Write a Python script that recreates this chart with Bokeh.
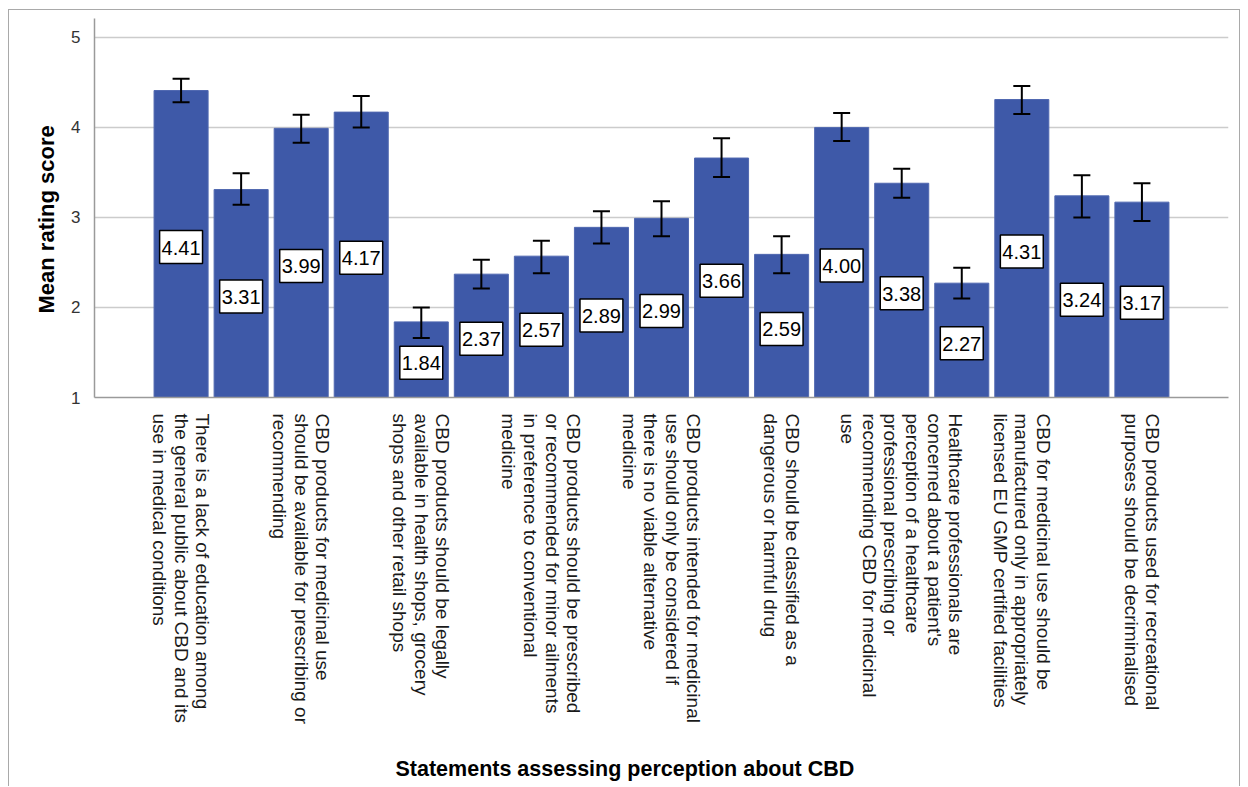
import math

from bokeh.core.properties import value
from bokeh.embed import file_html
from bokeh.models import (ColumnDataSource, FixedTicker, Range1d, TeeHead,
                          Title, Whisker)
from bokeh.plotting import figure
from bokeh.resources import INLINE

# Statement number (1..17) along the x axis; alternate statements keep an
# empty label so the long wrapped texts do not collide.
positions = list(range(1, 18))
statements = [
    "There is a lack of education among\nthe general public about CBD and its\nuse in medical conditions",
    "",
    "CBD products for medicinal use\nshould be available for prescribing or\nrecommending",
    "",
    "CBD products should be legally\navailable in health shops, grocery\nshops and other retail shops",
    "",
    "CBD products should be prescribed\nor recommended for minor ailments\nin preference to conventional\nmedicine",
    "",
    "CBD products intended for medicinal\nuse should only be considered if\nthere is no viable alternative\nmedicine",
    "",
    "CBD should be classified as a\ndangerous or harmful drug",
    "",
    "Healthcare professionals are\nconcerned about a patient's\nperception of a healthcare\nprofessional prescribing or\nrecommending CBD for medicinal\nuse",
    "",
    "CBD for medicinal use should be\nmanufactured only in appropriately\nlicensed EU GMP certified facilities",
    "",
    "CBD products used for recreational\npurposes should be decriminalised",
]

# Mean rating per statement and the ends of its error bar
mean_score = [4.41, 3.31, 3.99, 4.17, 1.84, 2.37, 2.57, 2.89, 2.99,
              3.66, 2.59, 4.00, 3.38, 2.27, 4.31, 3.24, 3.17]
ci_lower = [4.28, 3.14, 3.83, 4.00, 1.66, 2.21, 2.38, 2.71, 2.79,
            3.45, 2.38, 3.85, 3.22, 2.10, 4.15, 3.00, 2.96]
ci_upper = [4.54, 3.49, 4.14, 4.35, 2.00, 2.53, 2.74, 3.07, 3.18,
            3.88, 2.79, 4.16, 3.54, 2.44, 4.46, 3.47, 3.38]

y_ticks = [1, 2, 3, 4, 5]

FONT = "Liberation Sans"
BAR_COLOR = "#3e59a8"

source = ColumnDataSource(dict(
    x=positions,
    mean=mean_score,
    lower=ci_lower,
    upper=ci_upper,
    label_y=[(1 + m) / 2 for m in mean_score],
    label=[f"{m:.2f}" for m in mean_score],
))

pad = 86.5 / 60
p = figure(
    width=1232, height=777,
    x_range=Range1d(1 - pad, 17 + pad),
    y_range=Range1d(1, 5.21),
    output_backend="svg", toolbar_location=None,
    min_border_left=85, min_border_right=13,
    min_border_top=8, min_border_bottom=390,
)
p.styles = {
    "margin-left": "8px",
    "margin-top": "9px",
    "border-left": "1px solid #a9a9a9",
    "border-top": "1px solid #a9a9a9",
    "border-right": "1px solid #a9a9a9",
}
p.outline_line_color = None
p.background_fill_color = "white"
p.border_fill_color = "white"

# Bars rise from the bottom of the scale (1)
p.vbar(x="x", top="mean", bottom=1, width=0.9, source=source,
       fill_color=BAR_COLOR, line_color="#5068b0", line_width=1)

# Error bars with flat caps, drawn over the bars
whisker = Whisker(
    base="x", upper="upper", lower="lower", source=source,
    line_color="black", line_width=2, level="overlay",
    upper_head=TeeHead(size=17, line_color="black", line_width=2),
    lower_head=TeeHead(size=17, line_color="black", line_width=2),
)
p.add_layout(whisker)

# Boxed mean values in the middle of each bar
p.text(x="x", y="label_y", text="label", source=source,
       text_font=value(FONT), text_font_size="20px", text_color="black",
       text_align="center", text_baseline="middle", y_offset=3,
       background_fill_color="white", border_line_color="black",
       border_line_width=1.5,
       padding=dict(left=2, right=2, top=10, bottom=9))

# Axes
yaxis = p.yaxis[0]
yaxis.ticker = FixedTicker(ticks=y_ticks)
yaxis.major_tick_line_color = None
yaxis.minor_tick_line_color = None
yaxis.axis_line_color = "#9a9a9a"
yaxis.axis_line_width = 1.5
yaxis.major_label_text_font = FONT
yaxis.major_label_text_font_size = "17px"
yaxis.major_label_text_color = "#333333"
yaxis.major_label_standoff = 8

xaxis = p.xaxis[0]
xaxis.ticker = FixedTicker(ticks=positions)
xaxis.major_label_overrides = {pos: txt for pos, txt in zip(positions, statements)}
xaxis.major_label_orientation = -math.pi / 2
xaxis.major_tick_line_color = None
xaxis.minor_tick_line_color = None
xaxis.axis_line_color = "#9a9a9a"
xaxis.axis_line_width = 1.5
xaxis.major_label_text_font = FONT
xaxis.major_label_text_font_size = "19px"
xaxis.major_label_text_color = "#1a1a1a"
xaxis.major_label_text_line_height = 1.03
xaxis.major_label_standoff = 10

p.xgrid.grid_line_color = None
p.ygrid.grid_line_color = "#cccccc"
p.ygrid.grid_line_width = 1.5

# Axis titles (the x title sits one blank line below the statement labels)
p.add_layout(Title(
    text="Mean rating score", align="left", offset=84, standoff=19,
    text_font=FONT, text_font_size="22px", text_font_style="bold",
    text_color="black",
), "left")
p.add_layout(Title(
    text="\nStatements assessing perception about CBD", align="left",
    offset=301, standoff=10, vertical_align="top",
    text_font=FONT, text_font_size="21.5px", text_font_style="bold",
    text_color="black",
), "below")

open("out.html", "w").write(file_html(p, INLINE))
